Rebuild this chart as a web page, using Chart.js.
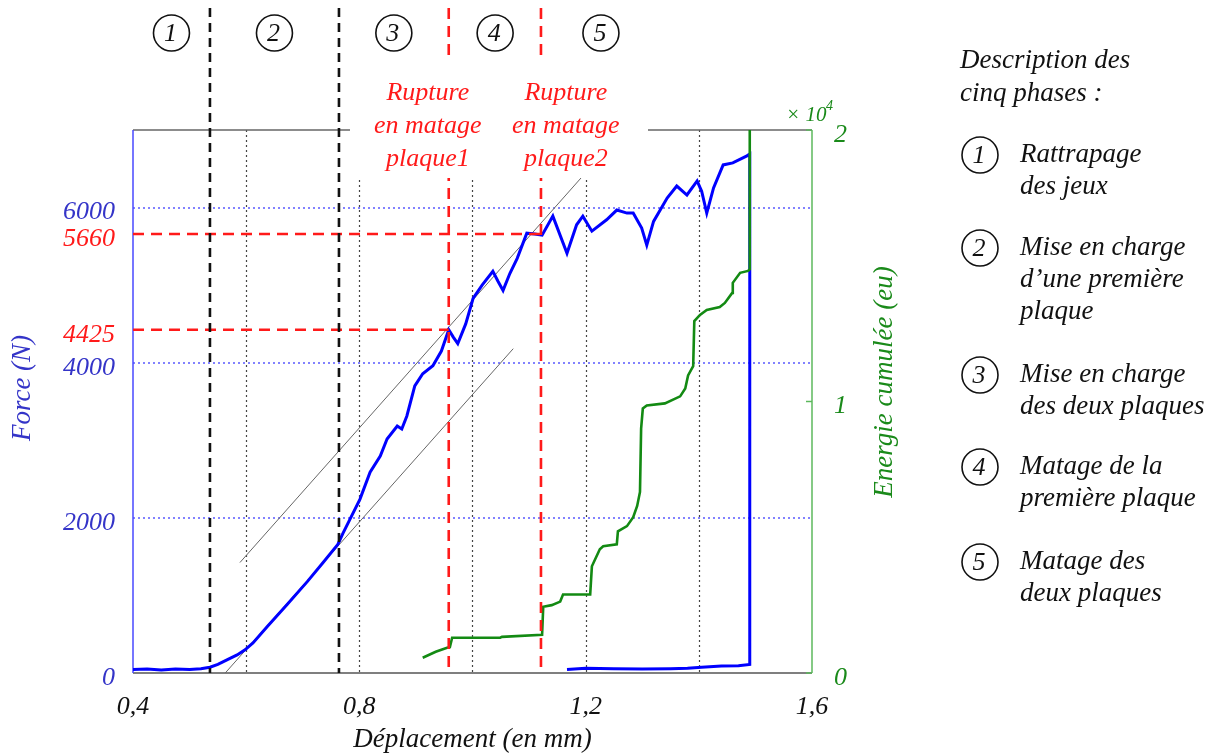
<!DOCTYPE html>
<html><head><meta charset="utf-8">
<script src="https://cdn.jsdelivr.net/npm/chart.js@4.4.0/dist/chart.umd.min.js"></script>
<style>html,body{margin:0;padding:0;background:#fff;}#wrap{width:1215px;height:756px;}</style>
</head><body><div id="wrap"><canvas id="c" width="1215" height="756"></canvas></div>
<script>
// ---- data ----
const forceDisp = [0.400,0.425,0.450,0.475,0.500,0.520,0.536,0.550,0.566,0.584,0.598,0.612,0.637,0.672,0.708,0.736,0.762,0.771,0.784,0.801,0.819,0.837,0.849,0.867,0.875,0.884,0.898,0.912,0.930,0.945,0.958,0.966,0.974,0.988,1.001,1.017,1.036,1.045,1.054,1.066,1.079,1.096,1.110,1.123,1.142,1.167,1.184,1.195,1.211,1.237,1.255,1.273,1.284,1.299,1.308,1.320,1.344,1.361,1.379,1.397,1.405,1.414,1.426,1.443,1.460,1.485,1.490,1.490,1.470,1.440,1.405,1.380,1.350,1.300,1.250,1.200,1.167];
const forceN = [45,50,40,50,45,55,75,110,168,233,298,388,595,880,1178,1424,1657,1800,1990,2239,2589,2796,3016,3184,3146,3314,3700,3858,3961,4150,4425,4330,4246,4500,4828,5000,5178,5050,4932,5150,5346,5670,5660,5644,5890,5411,5778,5890,5696,5843,5968,5929,5929,5735,5515,5822,6123,6278,6162,6343,6210,5929,6253,6550,6576,6667,6690,110,95,90,75,60,55,50,55,60,45];
const energyDisp = [0.912,0.935,0.955,0.960,0.964,1.000,1.049,1.052,1.123,1.125,1.140,1.155,1.160,1.208,1.211,1.225,1.231,1.255,1.257,1.273,1.284,1.291,1.296,1.298,1.301,1.308,1.340,1.367,1.376,1.381,1.390,1.392,1.402,1.414,1.437,1.446,1.459,1.460,1.473,1.487,1.490,1.490];
const energyE4 = [0.056,0.078,0.093,0.095,0.130,0.130,0.130,0.133,0.141,0.244,0.250,0.263,0.289,0.289,0.393,0.456,0.467,0.474,0.522,0.541,0.574,0.615,0.667,0.900,0.974,0.985,0.993,1.019,1.048,1.096,1.130,1.296,1.319,1.337,1.348,1.363,1.400,1.437,1.474,1.481,1.487,2.0];
const tangent1Disp = [0.589, 1.195];
const tangent1N = [1424, 6408];
const tangent2Disp = [0.563, 1.072];
const tangent2N = [0, 4181];
const xTicks = [0.4, 0.8, 1.2, 1.6];
const forceTicks = [0, 2000, 4000, 6000];
const markedForces = [4425, 5660];
const energyTicks = [0, 1, 2];
const dispGrid = [0.6, 0.8, 1.0, 1.2, 1.4];
const phaseBounds = [0.536, 0.764];
const ruptureDisp = [0.958, 1.121];
const phaseCenters = [0.468, 0.65, 0.861, 1.04, 1.227];
const phaseNumbers = ["1","2","3","4","5"];
const ruptureTextDisp = [0.921, 1.165];
const ruptureText = [["Rupture","en matage","plaque1"],["Rupture","en matage","plaque2"]];
const descTitle = ["Description des","cinq phases :"];
const phaseDescriptions = [["Rattrapage","des jeux"],["Mise en charge","d\u2019une premi\u00e8re","plaque"],["Mise en charge","des deux plaques"],["Matage de la","premi\u00e8re plaque"],["Matage des","deux plaques"]];

const zip = (xs, ys) => xs.map((v, i) => ({x: v, y: ys[i]}));
const SERIF = '"Liberation Serif", "DejaVu Serif", serif';
const BLUE_TXT = '#3434c8', RED = '#ff1a1a', GREEN = '#138a13', GREEN_TXT = '#1a8a1a';

function seg(ctx, x1, y1, x2, y2){ ctx.beginPath(); ctx.moveTo(x1,y1); ctx.lineTo(x2,y2); ctx.stroke(); }
function circled(ctx, cx, cy, t){
  ctx.save(); ctx.setLineDash([]); ctx.strokeStyle='#111'; ctx.lineWidth=1.6;
  ctx.beginPath(); ctx.arc(cx, cy, 18, 0, Math.PI*2); ctx.stroke();
  ctx.fillStyle='#111'; ctx.font='italic 26px '+SERIF; ctx.textAlign='center'; ctx.textBaseline='middle';
  ctx.fillText(t, cx-1, cy+1); ctx.restore();
}
function vtext(ctx, t, cx, cy, color){
  ctx.save(); ctx.translate(cx, cy); ctx.rotate(-Math.PI/2);
  ctx.font = 'italic 27px ' + SERIF; ctx.textAlign = 'center'; ctx.textBaseline = 'middle'; ctx.fillStyle = color;
  ctx.fillText(t, 0, 0); ctx.restore();
}

const overlay = {
  id: 'overlay',
  beforeDatasetsDraw(chart){
    const {ctx, chartArea: a, scales: {x, y, y2}} = chart;
    ctx.save();
    ctx.strokeStyle = '#5a5aff'; ctx.lineWidth = 1.5; ctx.setLineDash([2,3]);
    forceTicks.filter(v => v > 0).forEach(v => { const py = Math.round(y.getPixelForValue(v)); seg(ctx, a.left, py, a.right, py); });
    ctx.strokeStyle = '#444'; ctx.lineWidth = 1.2; ctx.setLineDash([2,3]);
    dispGrid.forEach(v => { const px = Math.round(x.getPixelForValue(v))+0.5; seg(ctx, px, a.top, px, a.bottom); });
    ctx.setLineDash([]);
    ctx.lineWidth = 1.5;
    ctx.strokeStyle = '#666'; seg(ctx, a.left, a.top, a.right, a.top);
    ctx.strokeStyle = '#555'; seg(ctx, a.left, a.bottom, a.right, a.bottom);
    ctx.strokeStyle = '#4848ff'; seg(ctx, a.left, a.top, a.left, a.bottom);
    ctx.strokeStyle = '#5cb85c'; seg(ctx, a.right, a.top, a.right, a.bottom);
    energyTicks.forEach(v => { const py = y2.getPixelForValue(v); seg(ctx, a.right-6, py, a.right, py); });
    ctx.restore();
  },
  afterDatasetsDraw(chart){
    const {ctx, chartArea: a, scales: {x, y, y2}} = chart;
    ctx.save();
    ctx.strokeStyle = RED; ctx.lineWidth = 2.6; ctx.setLineDash([11,7]);
    markedForces.forEach((f, i) => { const py = y.getPixelForValue(f); seg(ctx, a.left, py, x.getPixelForValue(ruptureDisp[i]), py); });
    ruptureDisp.forEach(v => { const px = x.getPixelForValue(v); seg(ctx, px, 8, px, a.bottom); });
    ctx.strokeStyle = '#111'; ctx.setLineDash([9,6]);
    phaseBounds.forEach(v => { const px = x.getPixelForValue(v); seg(ctx, px, 8, px, a.bottom); });
    ctx.setLineDash([]);
    ctx.fillStyle = '#fff';
    ctx.fillRect(350, 58, 298, a.top + 48 - 58);
    ctx.fillStyle = RED; ctx.font = 'italic 26px ' + SERIF; ctx.textAlign = 'center'; ctx.textBaseline = 'middle';
    ruptureText.forEach((lines, i) => {
      const cx = x.getPixelForValue(ruptureTextDisp[i]);
      lines.forEach((t, j) => ctx.fillText(t, cx, 93 + j*33));
    });
    phaseCenters.forEach((v, i) => circled(ctx, x.getPixelForValue(v), 33, phaseNumbers[i]));
    ctx.fillStyle = GREEN_TXT; ctx.textAlign = 'left'; ctx.textBaseline = 'alphabetic';
    ctx.font = 'italic 21px ' + SERIF; ctx.fillText('\u00d7 10', 786, 121);
    ctx.font = 'italic 14px ' + SERIF; ctx.fillText('4', 826, 110);
    vtext(ctx, 'Force (N)', 23, 388, BLUE_TXT);
    vtext(ctx, 'Energie cumul\u00e9e (eu)', 885, 382, GREEN_TXT);
    ctx.fillStyle = '#111'; ctx.font = 'italic 27px ' + SERIF; ctx.textAlign = 'left'; ctx.textBaseline = 'middle';
    descTitle.forEach((t, j) => ctx.fillText(t, 960, 61 + j*33));
    const itemY = [155, 248, 375, 467, 562];
    phaseDescriptions.forEach((lines, i) => {
      circled(ctx, 980, itemY[i], phaseNumbers[i]);
      ctx.fillStyle = '#111'; ctx.font = 'italic 27px ' + SERIF; ctx.textAlign = 'left'; ctx.textBaseline = 'middle';
      lines.forEach((t, j) => ctx.fillText(t, 1020, itemY[i] + j*32));
    });
    ctx.restore();
  }
};

new Chart(document.getElementById('c'), {
  type: 'scatter',
  data: { datasets: [
    { label: 'Energie', data: zip(energyDisp, energyE4), yAxisID: 'y2', showLine: true, borderColor: GREEN, borderWidth: 2.6, pointRadius: 0, order: 0 },
    { label: 'Force', data: zip(forceDisp, forceN), yAxisID: 'y', showLine: true, borderColor: '#0000ff', borderWidth: 3, pointRadius: 0, order: 1 },
    { label: 'Tangente 1', data: zip(tangent1Disp, tangent1N), yAxisID: 'y', showLine: true, borderColor: '#666', borderWidth: 1, pointRadius: 0, order: 2 },
    { label: 'Tangente 2', data: zip(tangent2Disp, tangent2N), yAxisID: 'y', showLine: true, borderColor: '#666', borderWidth: 1, pointRadius: 0, order: 2 }
  ]},
  options: {
    responsive: false, animation: false, events: [],
    layout: { padding: { top: 130, left: 0, right: 0, bottom: 0 } },
    plugins: { legend: { display: false }, tooltip: { enabled: false } },
    scales: {
      x: {
        type: 'linear', position: 'bottom', min: 0.4, max: 1.6,
        afterBuildTicks: s => { s.ticks = xTicks.map(v => ({value: v})); },
        afterFit: s => { s.height = 83; },
        grid: { display: false, drawTicks: false }, border: { display: false },
        ticks: { padding: 19, color: '#111', font: { family: SERIF, style: 'italic', size: 26 }, maxRotation: 0, autoSkip: false,
                 callback: v => Number(v).toFixed(1).replace('.', ',') },
        title: { display: true, text: 'D\u00e9placement (en mm)', color: '#111', padding: { top: 0, bottom: 0 }, font: { family: SERIF, style: 'italic', size: 27 } }
      },
      y: {
        type: 'linear', position: 'left', min: 0, max: 7000,
        afterBuildTicks: s => { s.ticks = forceTicks.concat(markedForces).sort((p, q) => p - q).map(v => ({value: v})); },
        afterFit: s => { s.width = 133; },
        grid: { display: false, drawTicks: false }, border: { display: false },
        ticks: { padding: 18, labelOffset: 5, autoSkip: false, font: { family: SERIF, style: 'italic', size: 26 },
                 color: c => markedForces.includes(c.tick.value) ? RED : BLUE_TXT,
                 callback: v => String(v) },
        title: { display: false }
      },
      y2: {
        type: 'linear', position: 'right', min: 0, max: 2,
        afterBuildTicks: s => { s.ticks = energyTicks.map(v => ({value: v})); },
        afterFit: s => { s.width = 403; },
        grid: { display: false, drawTicks: false }, border: { display: false },
        ticks: { padding: 22, labelOffset: 5, autoSkip: false, color: GREEN_TXT, font: { family: SERIF, style: 'italic', size: 26 }, callback: v => String(v) }
      }
    }
  },
  plugins: [overlay]
});
</script></body></html>
